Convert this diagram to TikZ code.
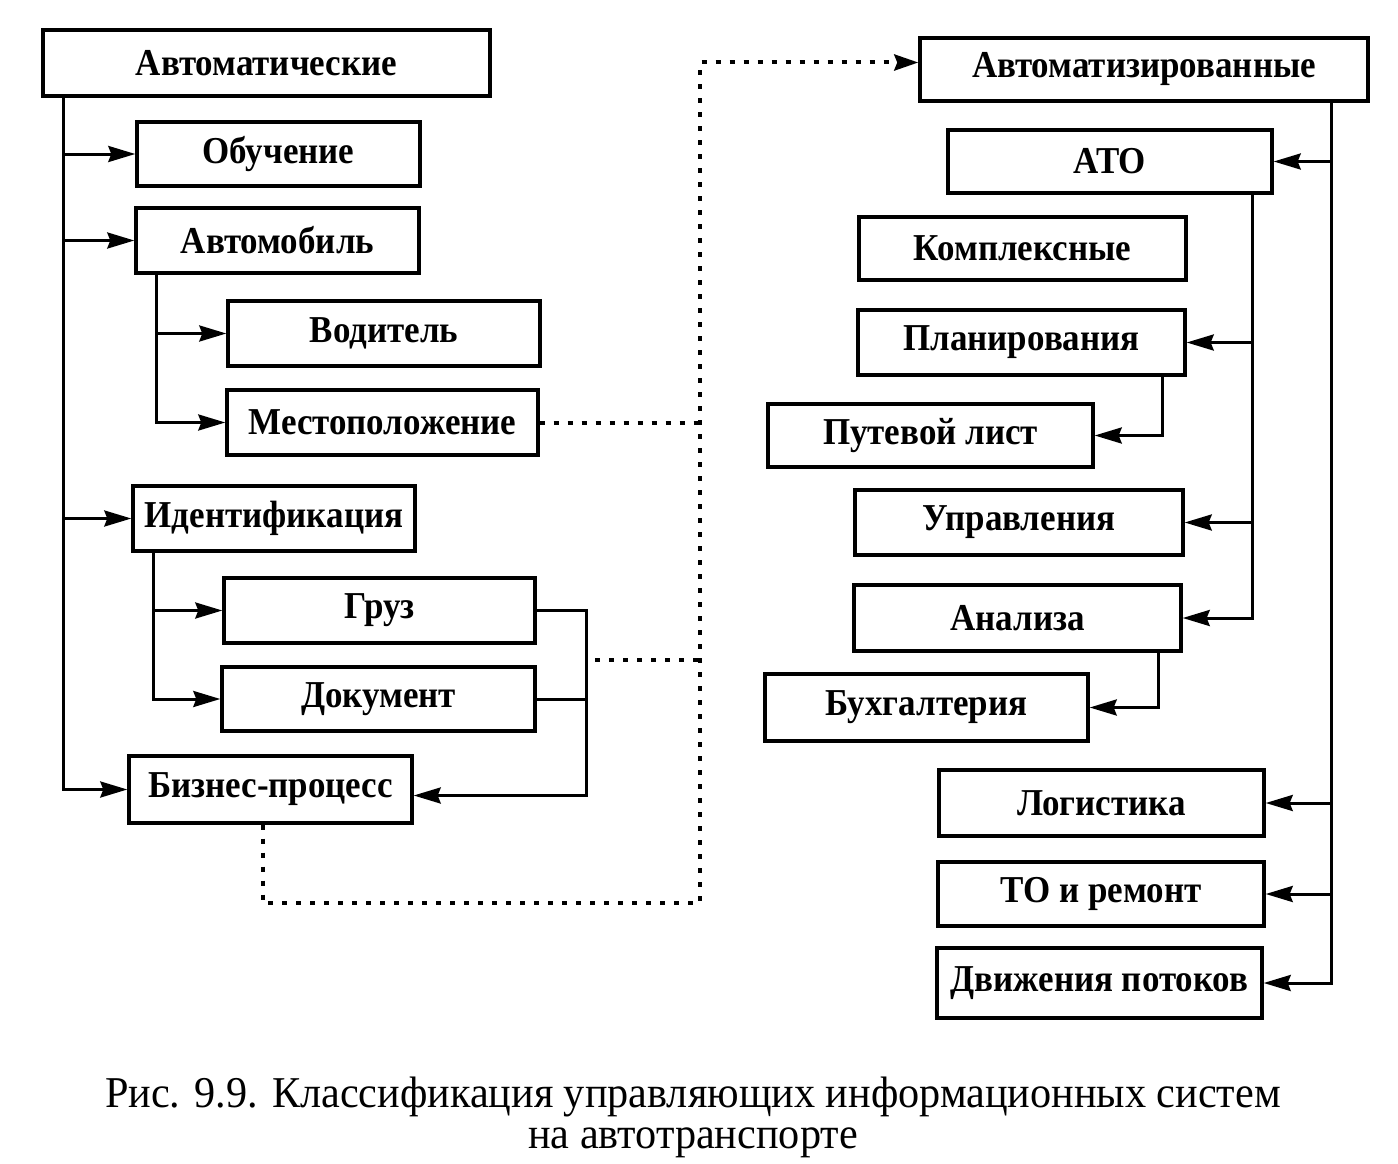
\documentclass[tikz,border=0pt]{standalone}
\usepackage{fontspec}
\setmainfont{Liberation Serif}[FakeStretch=0.92]
\newfontfamily\capfont{Liberation Serif}[FakeStretch=0.96]
\usetikzlibrary{arrows.meta}
\tikzset{
  box/.style={draw, line width=3.4pt, inner sep=0pt, font=\fontsize{38}{42}\selectfont\bfseries},
  conn/.style={line width=3pt},
  arr/.style={line width=3pt, -{Stealth[length=27pt,width=16pt,inset=3pt]}},
  dots/.style={line width=4pt, dash pattern=on 5pt off 9pt},
  dotarr/.style={dots, -{Stealth[length=24pt,width=16pt,inset=3pt]}},
}
\newcommand{\bx}[6]{\node[box, minimum width=#3pt, minimum height=#4pt] (#1) at (#2,#5) {#6};}
\begin{document}
\begin{tikzpicture}[x=1pt,y=-1pt]
\useasboundingbox (0,0) rectangle (1398,1164);
% left boxes
\bx{avt}{266.5}{447}{66}{63}{Автоматические}
\bx{obuch}{278.5}{283}{64}{154}{Обучение}
\bx{avtomob}{277.5}{283}{65}{240.5}{Автомобиль}
\bx{vodit}{384}{312}{65}{333.5}{Водитель}
\bx{mesto}{382.5}{311}{65}{422.5}{Местоположение}
\bx{ident}{274}{282}{65}{518.5}{Идентификация}
\bx{gruz}{379.5}{311}{65}{610.5}{Груз}
\bx{dok}{378.5}{313}{64}{699}{Документ}
\bx{biz}{270.5}{283}{67}{789.5}{Бизнес-процесс}
% right boxes
\bx{avtz}{1144}{448}{63}{69.5}{Автоматизированные}
\bx{ato}{1110}{324}{63}{161.5}{АТО}
\bx{kompl}{1022.5}{327}{63}{248.5}{Комплексные}
\bx{plan}{1021.5}{327}{65}{342.5}{Планирования}
\bx{put}{930.5}{325}{63}{435.5}{Путевой лист}
\bx{upr}{1019}{328}{65}{522.5}{Управления}
\bx{anal}{1017.5}{327}{66}{618}{Анализа}
\bx{buh}{926.5}{323}{67}{707.5}{Бухгалтерия}
\bx{log}{1101.5}{325}{66}{803}{Логистика}
\bx{to}{1101}{326}{64}{894}{ТО и ремонт}
\bx{dv}{1099.5}{325}{70}{983}{Движения потоков}
% trunk coordinates
\coordinate (lt) at (63,0);
\coordinate (at) at (156,0);
\coordinate (it) at (153,0);
\coordinate (bus) at (586,660);
\coordinate (rt) at (1331,0);
\coordinate (st) at (1252,0);
\coordinate (pt) at (1162,0);
\coordinate (bt) at (1158,0);
\coordinate (dc) at (700,903);
% left tree
\draw[arr] (avt.south -| lt) |- (biz.west);
\draw[arr] (lt |- obuch.west) -- (obuch.west);
\draw[arr] (lt |- avtomob.west) -- (avtomob.west);
\draw[arr] (lt |- ident.west) -- (ident.west);
\draw[arr] (avtomob.south -| at) |- (mesto.west);
\draw[arr] (at |- vodit.west) -- (vodit.west);
\draw[arr] (ident.south -| it) |- (dok.west);
\draw[arr] (it |- gruz.west) -- (gruz.west);
\draw[conn] (gruz.east) -| (bus);
\draw[conn] (dok.east) -| (bus);
\draw[arr] (bus) |- ([yshift=-6pt]biz.east);
% right tree
\draw[arr] (avtz.south -| rt) |- (dv.east);
\draw[arr] (rt |- ato.east) -- (ato.east);
\draw[arr] (rt |- log.east) -- (log.east);
\draw[arr] (rt |- to.east) -- (to.east);
\draw[arr] (ato.south -| st) |- (anal.east);
\draw[arr] (st |- plan.east) -- (plan.east);
\draw[arr] (st |- upr.east) -- (upr.east);
\draw[arr] (plan.south -| pt) |- (put.east);
\draw[arr] (anal.south -| bt) |- (buh.east);
% dotted links
\draw[dotarr] ([xshift=-8pt]biz.south) |- (dc) |- ([yshift=7pt]avtz.west);
\draw[dots] (mesto.east) -- (mesto.east -| dc);
\draw[dots] ([xshift=9pt]bus) -- (bus -| dc);
% caption
\node[align=center, font=\capfont\fontsize{44}{41}\selectfont] (cap) at (693,1117) {Рис. 9.9. Классификация управляющих информационных систем\\на автотранспорте};
\end{tikzpicture}
\end{document}
